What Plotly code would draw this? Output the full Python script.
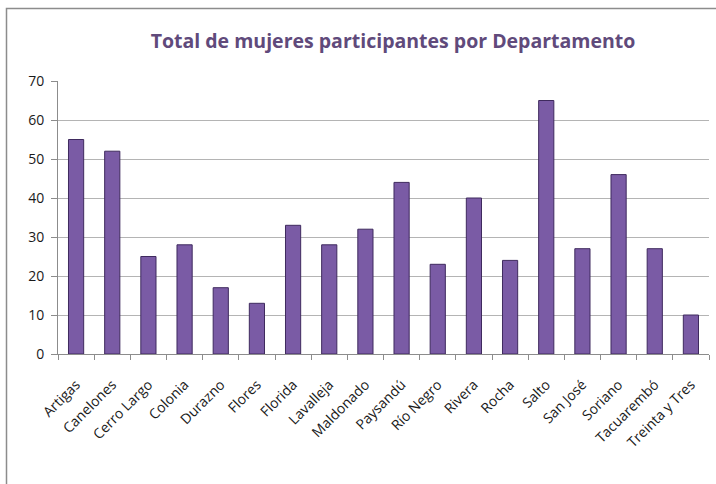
import plotly.graph_objects as go

departamentos = ["Artigas", "Canelones", "Cerro Largo", "Colonia", "Durazno", "Flores",
                 "Florida", "Lavalleja", "Maldonado", "Paysandú", "Río Negro", "Rivera",
                 "Rocha", "Salto", "San José", "Soriano", "Tacuarembó", "Treinta y Tres"]
mujeres = [55, 52, 25, 28, 17, 13, 33, 28, 32, 44, 23, 40, 24, 65, 27, 46, 27, 10]
y_ticks = [0, 10, 20, 30, 40, 50, 60, 70]
titulo = "Total de mujeres participantes por Departamento"

FONT = "Liberation Sans Narrow, Open Sans, sans-serif"

fig = go.Figure()
fig.add_trace(go.Bar(
    x=departamentos, y=mujeres,
    marker=dict(color="#7A5BA5", line=dict(color="#3F2A5E", width=1)),
    width=0.42,
))

W, H = 716, 484
l, r, t, b = 58, 7, 81, 130
pw, ph = W - l - r, H - t - b

def px(x):
    return (x - l) / pw

def py(y):
    return 1 - (y - t) / ph

fig.add_shape(type="rect", xref="paper", yref="paper",
              x0=px(6.5), x1=px(730), y0=py(500), y1=py(8.5),
              line=dict(color="#8C8C8C", width=1.5), fillcolor="rgba(0,0,0,0)", layer="below")

fig.update_layout(
    width=W, height=H,
    margin=dict(l=l, r=r, t=t, b=b, autoexpand=False),
    paper_bgcolor="white", plot_bgcolor="white",
    showlegend=False,
    title=dict(text="<b>" + titulo + "</b>", x=393 / W, xanchor="center",
               y=1 - 41 / H, yanchor="middle",
               font=dict(family=FONT, size=19.5, color="#604A7B")),
    xaxis=dict(tickangle=-45, tickfont=dict(family=FONT, size=14, color="#1a1a1a"),
               showline=True, linecolor="#8C8C8C", linewidth=1,
               ticks="outside", ticklen=5, tickcolor="#8C8C8C",
               tickson="boundaries", showgrid=False, automargin=False,
               ticklabelstandoff=16),
    yaxis=dict(range=[0, 70], tickvals=y_ticks, tickfont=dict(family=FONT, size=14, color="#1a1a1a"),
               showline=True, linecolor="#8C8C8C", linewidth=1,
               ticks="outside", ticklen=6, tickcolor="#8C8C8C",
               showgrid=True, gridcolor="#B4B4B4", gridwidth=1, zeroline=False,
               automargin=False, ticklabelstandoff=4),
)

fig.write_html("out.html", config={"displayModeBar": False},
               post_script="document.body.style.margin='0';")
